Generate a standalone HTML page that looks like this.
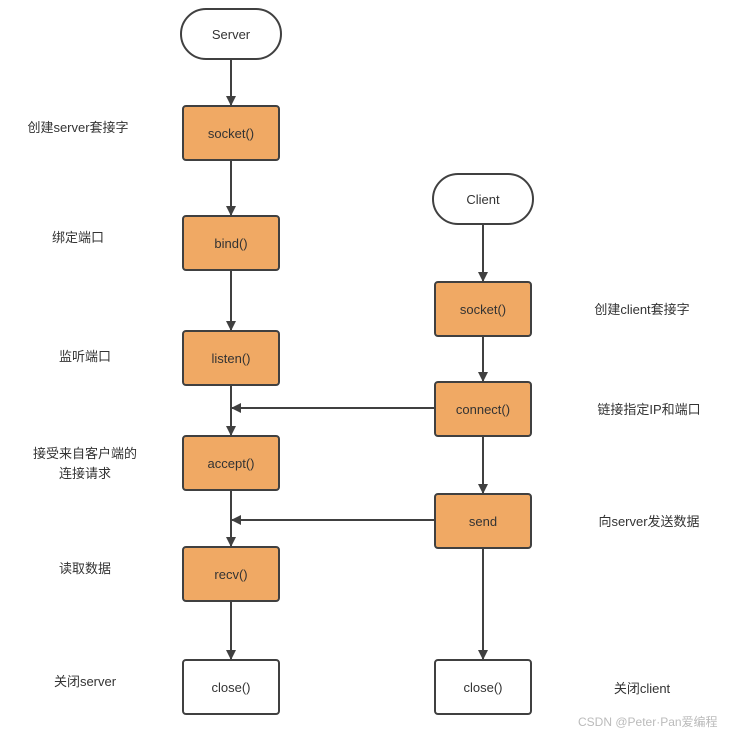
<!DOCTYPE html>
<html><head><meta charset="utf-8"><style>
html,body{margin:0;padding:0;background:#fff;}
svg{display:block;}
text{font-family:"Liberation Sans","Noto Sans CJK SC",sans-serif;font-size:13px;fill:#333;}
</style></head><body>
<svg width="732" height="734" viewBox="0 0 732 734" xmlns="http://www.w3.org/2000/svg">
<defs>
<marker id="a" markerWidth="10" markerHeight="10" refX="9" refY="5" orient="auto" markerUnits="userSpaceOnUse">
<path d="M0,0 L10,5 L0,10 z" fill="#404040"/></marker>
</defs>
<g stroke="#404040" stroke-width="2" fill="none">
<line x1="231" y1="59" x2="231" y2="105" marker-end="url(#a)"/>
<line x1="231" y1="160" x2="231" y2="215" marker-end="url(#a)"/>
<line x1="231" y1="270" x2="231" y2="330" marker-end="url(#a)"/>
<line x1="231" y1="385" x2="231" y2="435" marker-end="url(#a)"/>
<line x1="231" y1="490" x2="231" y2="546" marker-end="url(#a)"/>
<line x1="231" y1="601" x2="231" y2="659" marker-end="url(#a)"/>
<line x1="483" y1="224" x2="483" y2="281" marker-end="url(#a)"/>
<line x1="483" y1="336" x2="483" y2="381" marker-end="url(#a)"/>
<line x1="483" y1="436" x2="483" y2="493" marker-end="url(#a)"/>
<line x1="483" y1="548" x2="483" y2="659" marker-end="url(#a)"/>
<line x1="434" y1="408" x2="232" y2="408" marker-end="url(#a)"/>
<line x1="434" y1="520" x2="232" y2="520" marker-end="url(#a)"/>
</g>
<g stroke="#404040" stroke-width="2">
<rect x="181" y="9" width="100" height="50" rx="25" fill="#fff"/>
<rect x="433" y="174" width="100" height="50" rx="25" fill="#fff"/>
<rect x="183" y="106" width="96" height="54" rx="3" fill="#f0a964"/>
<rect x="183" y="216" width="96" height="54" rx="3" fill="#f0a964"/>
<rect x="183" y="331" width="96" height="54" rx="3" fill="#f0a964"/>
<rect x="183" y="436" width="96" height="54" rx="3" fill="#f0a964"/>
<rect x="183" y="547" width="96" height="54" rx="3" fill="#f0a964"/>
<rect x="183" y="660" width="96" height="54" rx="3" fill="#fff"/>
<rect x="435" y="282" width="96" height="54" rx="3" fill="#f0a964"/>
<rect x="435" y="382" width="96" height="54" rx="3" fill="#f0a964"/>
<rect x="435" y="494" width="96" height="54" rx="3" fill="#f0a964"/>
<rect x="435" y="660" width="96" height="54" rx="3" fill="#fff"/>
</g>
<g text-anchor="middle">
<text x="231" y="39">Server</text>
<text x="483" y="204">Client</text>
<text x="231" y="138">socket()</text>
<text x="231" y="248">bind()</text>
<text x="231" y="363">listen()</text>
<text x="231" y="468">accept()</text>
<text x="231" y="579">recv()</text>
<text x="231" y="692">close()</text>
<text x="483" y="314">socket()</text>
<text x="483" y="414">connect()</text>
<text x="483" y="526">send</text>
<text x="483" y="692">close()</text>
<text x="78" y="132">创建server套接字</text>
<text x="78" y="242">绑定端口</text>
<text x="85" y="361">监听端口</text>
<text x="85" y="458">接受来自客户端的</text>
<text x="85" y="478">连接请求</text>
<text x="85" y="573">读取数据</text>
<text x="85" y="686">关闭server</text>
<text x="642" y="314">创建client套接字</text>
<text x="649" y="414">链接指定IP和端口</text>
<text x="649" y="526">向server发送数据</text>
<text x="642" y="693">关闭client</text>
</g>
<text x="578" y="726" style="font-size:12px;fill:#bbb">CSDN @Peter·Pan爱编程</text>
</svg>
</body></html>
